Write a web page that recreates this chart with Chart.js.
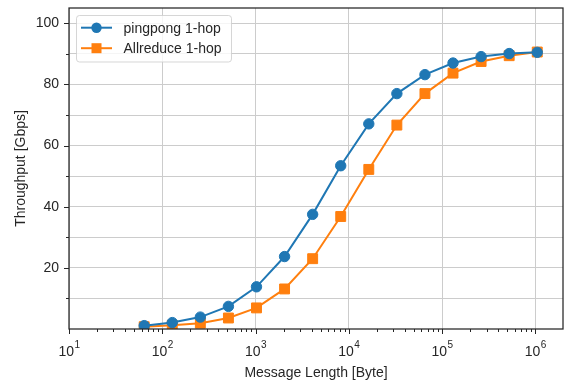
<!DOCTYPE html>
<html>
<head>
<meta charset="utf-8">
<script src="https://cdn.jsdelivr.net/npm/chart.js@4"></script>
<style>
  html, body { margin: 0; padding: 0; background: #ffffff; }
  #wrap { width: 567px; height: 380px; position: relative; }
</style>
</head>
<body>
<div id="wrap"><canvas id="c" width="567" height="380"></canvas></div>
<script>
// ---- data ----
const messageSizes = [64, 128, 256, 512, 1024, 2048, 4096, 8192, 16384, 32768, 65536, 131072, 262144, 524288, 1048576];
const pingpong = [1.1, 2.1, 3.9, 7.4, 13.8, 23.7, 37.5, 53.4, 67.1, 77.0, 83.2, 87.0, 89.1, 90.1, 90.5];
const allreduce = [0.75, 1.2, 1.9, 3.6, 6.9, 13.1, 23.0, 36.8, 52.2, 66.7, 77.0, 83.7, 87.5, 89.4, 90.6];
const seriesLabels = ['pingpong 1-hop', 'Allreduce 1-hop'];
const xMajorTicks = [10, 100, 1000, 10000, 100000, 1000000];
const xTickBase = '10';
const xTickExponents = ['1', '2', '3', '4', '5', '6'];
const yLabeledTicks = [20, 40, 60, 80, 100];
const yMinorTicks = [10, 30, 50, 70, 90];
const xTitle = 'Message Length [Byte]';
const yTitle = 'Throughput [Gbps]';

const FONT = '"Liberation Sans", Arial, Helvetica, sans-serif';
const TXT = '#262626';
const BLUE = '#1f77b4';
const ORANGE = '#ff7f0e';

function toPoints(ys) { return messageSizes.map((x, i) => ({ x: x, y: ys[i] })); }

const decorPlugin = {
  id: 'decor',
  afterDraw(chart) {
    const ctx = chart.ctx;
    const a = chart.chartArea;
    const xs = chart.scales.x, ys = chart.scales.y;
    ctx.save();
    // frame
    ctx.strokeStyle = TXT;
    ctx.lineWidth = 1.25;
    ctx.strokeRect(a.left, a.top, a.right - a.left, a.bottom - a.top);
    // x ticks
    ctx.lineWidth = 1;
    const xmax = xs.max;
    for (let k = 1; k <= 6; k++) {
      const d = Math.pow(10, k);
      for (let m = 1; m <= 9; m++) {
        const v = m * d;
        if (v > xmax * 1.0001) continue;
        const px = Math.round(xs.getPixelForValue(v)) + 0.5;
        const len = m === 1 ? 5 : 3;
        ctx.beginPath(); ctx.moveTo(px, a.bottom); ctx.lineTo(px, a.bottom + len); ctx.stroke();
      }
    }
    // y ticks
    yLabeledTicks.forEach(v => {
      const py = Math.round(ys.getPixelForValue(v)) + 0.5;
      ctx.beginPath(); ctx.moveTo(a.left, py); ctx.lineTo(a.left - 5, py); ctx.stroke();
    });
    yMinorTicks.forEach(v => {
      const py = Math.round(ys.getPixelForValue(v)) + 0.5;
      ctx.beginPath(); ctx.moveTo(a.left, py); ctx.lineTo(a.left - 3, py); ctx.stroke();
    });
    // x tick labels 10^k
    ctx.fillStyle = TXT;
    ctx.textBaseline = 'alphabetic';
    ctx.textAlign = 'left';
    xMajorTicks.forEach((v, i) => {
      const px = xs.getPixelForValue(v);
      ctx.font = '14px ' + FONT;
      const wb = ctx.measureText(xTickBase).width;
      ctx.font = '10px ' + FONT;
      const we = ctx.measureText(xTickExponents[i]).width;
      const x0 = px - (wb + we) / 2;
      ctx.font = '14px ' + FONT;
      ctx.fillText(xTickBase, x0, a.bottom + 27);
      ctx.font = '10px ' + FONT;
      ctx.fillText(xTickExponents[i], x0 + wb + 0.5, a.bottom + 19);
    });
    // axis titles
    ctx.font = '14px ' + FONT;
    ctx.textAlign = 'center';
    ctx.fillText(xTitle, (a.left + a.right) / 2, 377);
    ctx.save();
    ctx.translate(25, (a.top + a.bottom) / 2);
    ctx.rotate(-Math.PI / 2);
    ctx.fillText(yTitle, 0, 0);
    ctx.restore();
    // legend
    const lx = 76.5, ly = 15.5, lw = 155, lh = 46.5, r = 3;
    ctx.beginPath();
    ctx.moveTo(lx + r, ly);
    ctx.lineTo(lx + lw - r, ly); ctx.quadraticCurveTo(lx + lw, ly, lx + lw, ly + r);
    ctx.lineTo(lx + lw, ly + lh - r); ctx.quadraticCurveTo(lx + lw, ly + lh, lx + lw - r, ly + lh);
    ctx.lineTo(lx + r, ly + lh); ctx.quadraticCurveTo(lx, ly + lh, lx, ly + lh - r);
    ctx.lineTo(lx, ly + r); ctx.quadraticCurveTo(lx, ly, lx + r, ly);
    ctx.closePath();
    ctx.fillStyle = 'rgba(255,255,255,0.8)';
    ctx.fill();
    ctx.strokeStyle = 'rgba(204,204,204,0.8)';
    ctx.lineWidth = 1;
    ctx.stroke();
    chart.data.datasets.forEach((ds, i) => {
      const y = 27.7 + i * 20.5;
      ctx.strokeStyle = ds.borderColor;
      ctx.lineWidth = 2;
      ctx.beginPath(); ctx.moveTo(81, y); ctx.lineTo(112, y); ctx.stroke();
      ctx.fillStyle = ds.borderColor;
      if (ds.pointStyle === 'rect') {
        ctx.fillRect(96.5 - 5, y - 5, 10, 10);
      } else {
        ctx.beginPath(); ctx.arc(96.5, y, 5.2, 0, Math.PI * 2); ctx.fill();
      }
      ctx.fillStyle = TXT;
      ctx.textAlign = 'left';
      ctx.font = '14px ' + FONT;
      ctx.fillText(ds.label, 123.5, y + 5);
    });
    ctx.restore();
  }
};

new Chart(document.getElementById('c'), {
  type: 'line',
  data: {
    datasets: [
      {
        label: seriesLabels[0], data: toPoints(pingpong),
        borderColor: BLUE, backgroundColor: BLUE, borderWidth: 2,
        pointStyle: 'circle', pointRadius: 5.2, pointBorderWidth: 1,
        pointBorderColor: BLUE, pointBackgroundColor: BLUE, tension: 0
      },
      {
        label: seriesLabels[1], data: toPoints(allreduce),
        borderColor: ORANGE, backgroundColor: ORANGE, borderWidth: 2,
        pointStyle: 'rect', pointRadius: 7, pointBorderWidth: 1,
        pointBorderColor: ORANGE, pointBackgroundColor: ORANGE, tension: 0
      }
    ]
  },
  options: {
    responsive: false,
    animation: false,
    devicePixelRatio: 1,
    layout: { autoPadding: false, padding: { top: 8, right: 4, left: 0, bottom: 0 } },
    plugins: { legend: { display: false }, tooltip: { enabled: false } },
    scales: {
      x: {
        type: 'logarithmic',
        min: 10, max: 1.98e6,
        border: { display: false },
        grid: { color: '#cccccc', lineWidth: 1, drawTicks: false },
        ticks: { display: false },
        afterBuildTicks(scale) { scale.ticks = xMajorTicks.map(v => ({ value: v })); },
        afterFit(scale) { scale.height = 51; scale.paddingLeft = 0; scale.paddingRight = 0; scale.paddingTop = 0; scale.paddingBottom = 0; }
      },
      y: {
        type: 'linear',
        min: 0, max: 105,
        border: { display: false },
        grid: {
          drawTicks: false, lineWidth: 1,
          color: c => (c.tick && c.tick.value === 0) ? 'rgba(0,0,0,0)' : '#cccccc'
        },
        ticks: {
          stepSize: 10, includeBounds: false, autoSkip: false,
          padding: 10, color: TXT,
          font: { family: FONT, size: 14 },
          callback: v => yLabeledTicks.includes(v) ? String(v) : ''
        },
        afterFit(scale) { scale.width = 69; scale.paddingLeft = 0; scale.paddingRight = 0; scale.paddingTop = 0; scale.paddingBottom = 0; }
      }
    }
  },
  plugins: [decorPlugin]
});
</script>
</body>
</html>
